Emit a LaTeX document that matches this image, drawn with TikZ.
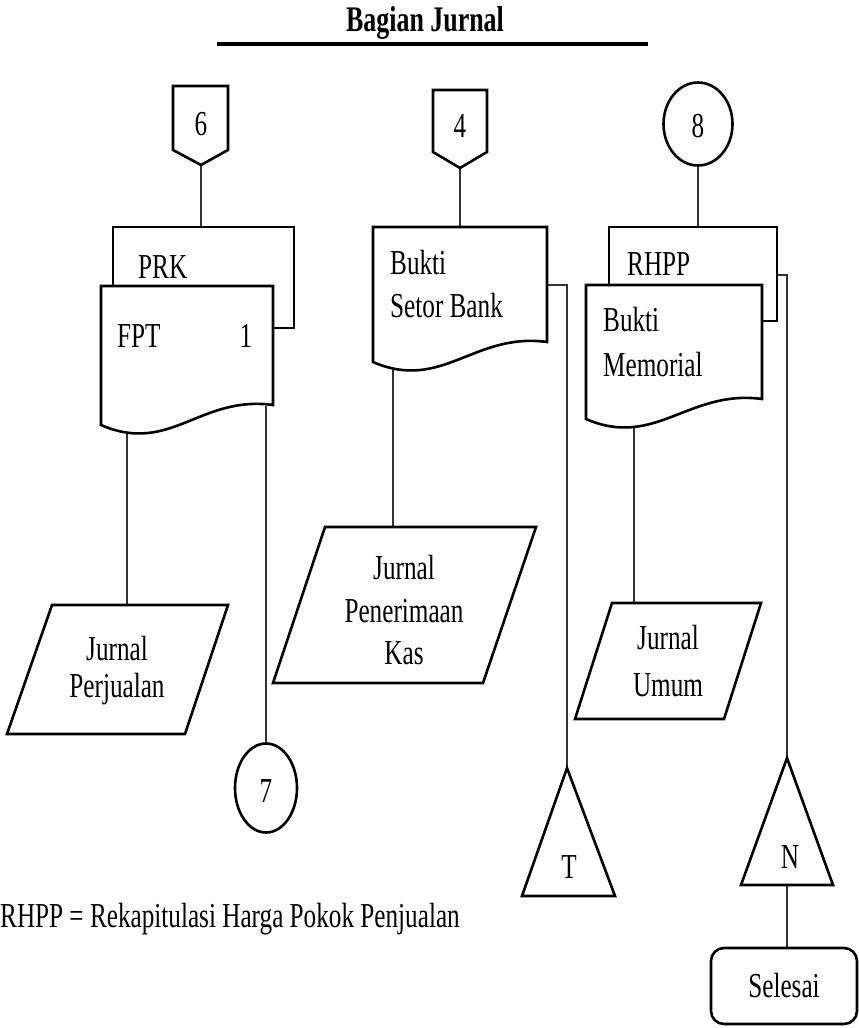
\documentclass[tikz,border=0pt]{standalone}
\usepackage{fontspec}
\setmainfont[FakeStretch=0.72]{Liberation Serif}
\begin{document}
\begin{tikzpicture}[x=1pt,y=-1pt,
  shp/.style={line width=2.6pt, line join=miter, fill=white},
  conn/.style={line width=1.2pt, draw=black!80},
  txt/.style={inner sep=0pt, font=\fontsize{35}{42}\selectfont},
]
\useasboundingbox (0,0) rectangle (859,1028);
% ---------- title ----------
\node[txt, font=\bfseries\fontsize{36}{42}\selectfont, anchor=base] (title) at (425,31) {Bagian Jurnal};
\coordinate (ul1) at (217,44);
\coordinate (ul2) at (648,44);
\draw[line width=3.2pt] (ul1) -- (ul2);

% ---------- named connection points ----------
\coordinate (c6) at (201,165);
\coordinate (prktop) at (201,227);
\coordinate (fpta) at (127,432);
\coordinate (fptb) at (266,406);
\coordinate (jptop) at (127,605);
\coordinate (c7top) at (266,743.5);
\coordinate (c4) at (460,168);
\coordinate (bsbtop) at (460,227);
\coordinate (bsba) at (393,368);
\coordinate (bsbr) at (547,285);
\coordinate (bsbk) at (567,285);
\coordinate (jpktop) at (393,527);
\coordinate (ttop) at (567,768);
\coordinate (c8bot) at (698,165.5);
\coordinate (rhpptop) at (698,227);
\coordinate (rhppr) at (777,275);
\coordinate (rhppk) at (787,275);
\coordinate (ntop) at (787,758);
\coordinate (nbot) at (787,885);
\coordinate (bma) at (634,426);
\coordinate (jutop) at (634,603);
\coordinate (seltop) at (787,948);

% ---------- connectors ----------
\draw[conn] (c6) -- (prktop);
\draw[conn] (fpta) -- (jptop);
\draw[conn] (fptb) -- (c7top);
\draw[conn] (c4) -- (bsbtop);
\draw[conn] (bsba) -- (jpktop);
\draw[conn] (bsbr) -- (bsbk) -- (ttop);
\draw[conn] (c8bot) -- (rhpptop);
\draw[conn] (rhppr) -- (rhppk) -- (ntop);
\draw[conn] (bma) -- (jutop);
\draw[conn] (nbot) -- (seltop);

% ---------- column 1 ----------
\draw[shp] (173,86) -- (228,86) -- (228,150) -- (c6) -- (173,150) -- cycle;
\node[txt, anchor=base] (n6) at (201,135) {6};
\draw[shp] (113,227) rectangle (294,328);
\node[txt, anchor=base west] (prk) at (138,278) {PRK};
\draw[shp] (101,286) -- (273,286) -- (273,405) .. controls (200,395) and (170,455) .. (101,425) -- cycle;
\node[txt, anchor=base west] (fpt) at (117,347) {FPT};
\node[txt, anchor=base] (fpt1) at (246,347) {1};
\draw[shp] (52,605) -- (228,605) -- (185,734) -- (7,734) -- cycle;
\node[txt, font=\fontsize{35}{37}\selectfont, align=center] (jp) at (117,670.5) {Jurnal\\Perjualan};
\draw[shp] (266,788) ellipse [x radius=31pt, y radius=44.5pt];
\node[txt, anchor=base] (n7) at (266,802) {7};

% ---------- column 2 ----------
\draw[shp] (433,90) -- (487,90) -- (487,152) -- (c4) -- (433,152) -- cycle;
\node[txt, anchor=base] (n4) at (460,137) {4};
\draw[shp] (373,227) -- (547,227) -- (547,342) .. controls (474,332) and (442,392) .. (373,362) -- cycle;
\node[txt, font=\fontsize{35}{43}\selectfont, align=left, anchor=west] (bsb) at (390,284.5) {Bukti\\Setor Bank};
\draw[shp] (325,527) -- (536,527) -- (483,683) -- (273,683) -- cycle;
\node[txt, font=\fontsize{35}{42.5}\selectfont, align=center] (jpk) at (404,610.5) {Jurnal\\Penerimaan\\Kas};
\draw[shp] (ttop) -- (615,896) -- (522,896) -- cycle;
\node[txt, anchor=base] (nt) at (569,878) {T};

% ---------- column 3 ----------
\draw[shp] (698,124) ellipse [x radius=34.5pt, y radius=41.5pt];
\node[txt, anchor=base] (n8) at (698,137) {8};
\draw[shp] (609,227) rectangle (777,321);
\node[txt, anchor=base west] (rhpp) at (627,275) {RHPP};
\draw[shp] (586,285) -- (762,285) -- (762,399) .. controls (689,389) and (655,449) .. (586,419) -- cycle;
\node[txt, font=\fontsize{35}{45}\selectfont, align=left, anchor=west] (bm) at (603,342.5) {Bukti\\Memorial};
\draw[shp] (612,603) -- (761,603) -- (724,719) -- (575,719) -- cycle;
\node[txt, font=\fontsize{35}{47}\selectfont, align=center] (ju) at (668,661.5) {Jurnal\\Umum};
\draw[shp] (ntop) -- (833,885) -- (741,885) -- cycle;
\node[txt, anchor=base] (nn) at (790,868) {N};
\draw[shp, rounded corners=13pt] (711,948) rectangle (857,1024);
\node[txt, anchor=base] (sel) at (784,997) {Selesai};

% ---------- legend ----------
\node[txt, anchor=base west] (legend) at (0,927) {RHPP = Rekapitulasi Harga Pokok Penjualan};
\end{tikzpicture}
\end{document}
